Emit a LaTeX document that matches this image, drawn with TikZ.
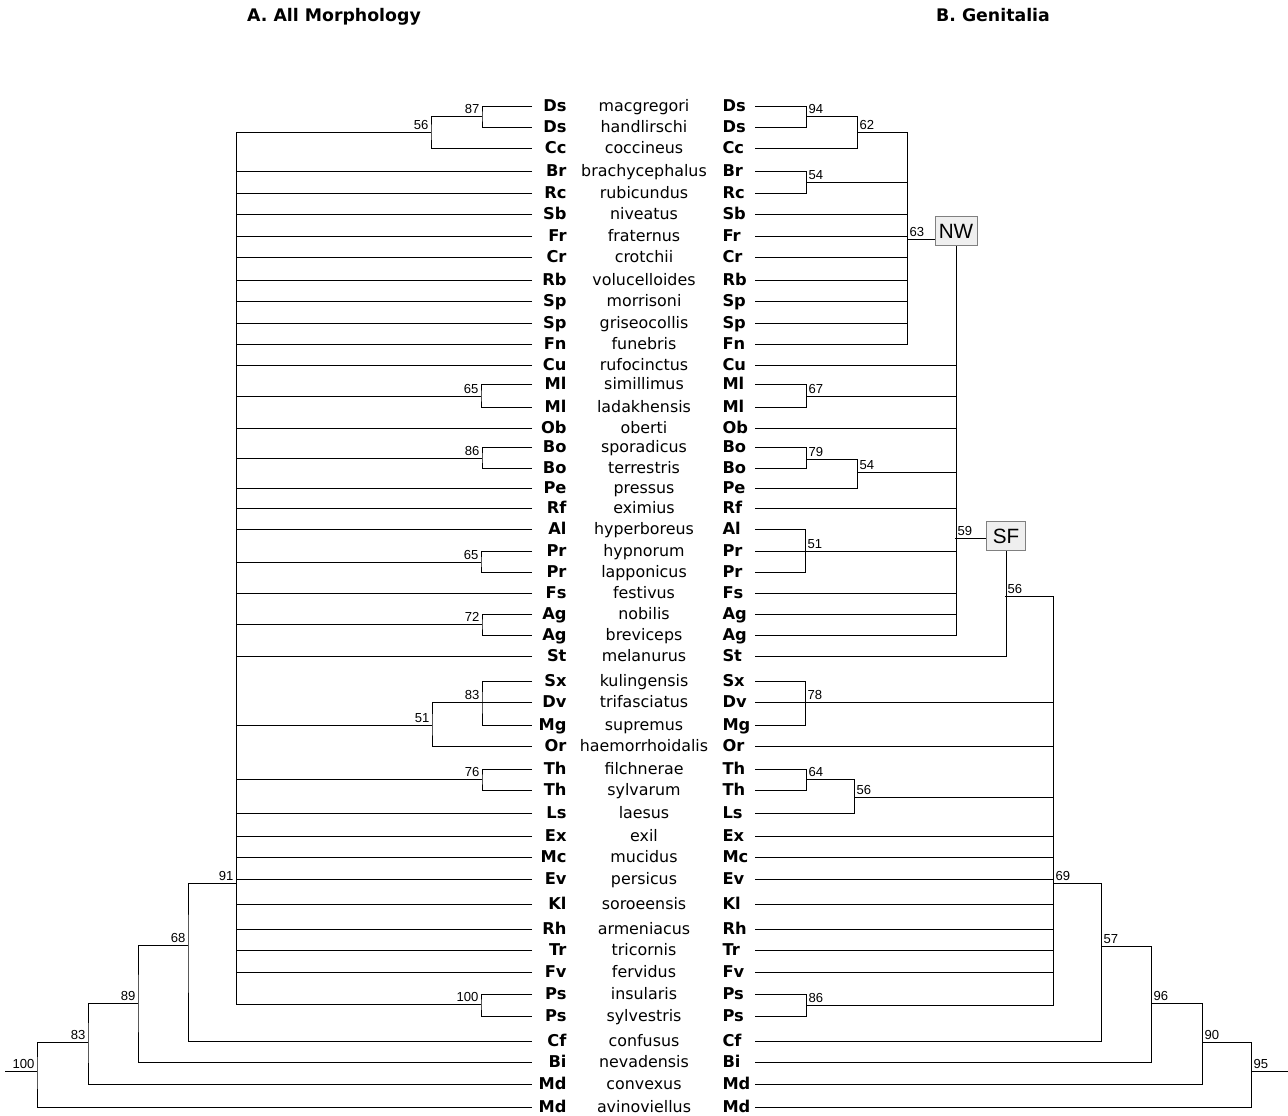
\documentclass[tikz,border=0pt]{standalone}
\usepackage{fontspec}
\setmainfont{DejaVu Sans}
\newfontfamily\numfont{Liberation Sans}
\definecolor{boxgray}{HTML}{EFEFEF}
\definecolor{edgegray}{HTML}{808080}
\tikzset{
  abbr/.style={font=\fontsize{12.2}{14}\selectfont\bfseries, inner sep=0pt, text height=8.9pt, text depth=0pt},
  taxon/.style={font=\fontsize{11.9}{14}\selectfont, inner sep=0pt, text height=8.7pt, text depth=0pt},
  bsl/.style={above left, font=\numfont\fontsize{9.8}{11}\selectfont, inner sep=1.6pt},
  bsr/.style={above right, font=\numfont\fontsize{9.8}{11}\selectfont, inner sep=1.6pt},
  grpbox/.style={draw=edgegray, fill=boxgray, font=\numfont\fontsize{15.5}{17}\selectfont, minimum height=22pt, inner sep=1pt},
  heading/.style={font=\fontsize{13}{15}\selectfont\bfseries}
}

\begin{document}
\begin{tikzpicture}[x=0.75pt, y=-0.75pt, line width=0.75pt]
\useasboundingbox (0,0) rectangle (1288,1115);
\node[heading] (titleA) at (334,17) {A. All Morphology};
\node[heading] (titleB) at (993,15) {B. Genitalia};

\foreach \y/\ab/\sp [count=\i] in {106/Ds/macgregori, 127/Ds/handlirschi, 148/Cc/coccineus,
  171/Br/brachycephalus, 193/Rc/rubicundus, 214/Sb/niveatus, 236/Fr/fraternus, 257/Cr/crotchii,
  280/Rb/volucelloides, 301/Sp/morrisoni, 323/Sp/griseocollis, 344/Fn/funebris, 365/Cu/rufocinctus,
  384/Ml/simillimus, 407/Ml/ladakhensis, 428/Ob/oberti, 447/Bo/sporadicus, 468/Bo/terrestris,
  488/Pe/pressus, 508/Rf/eximius, 529/Al/hyperboreus, 551/Pr/hypnorum, 572/Pr/lapponicus,
  593/Fs/festivus, 614/Ag/nobilis, 635/Ag/breviceps, 656/St/melanurus, 681/Sx/kulingensis,
  702/Dv/trifasciatus, 725/Mg/supremus, 746/Or/haemorrhoidalis, 769/Th/filchnerae, 790/Th/sylvarum,
  813/Ls/laesus, 836/Ex/exil, 857/Mc/mucidus, 879/Ev/persicus, 904/Kl/soroeensis, 929/Rh/armeniacus,
  950/Tr/tricornis, 972/Fv/fervidus, 994/Ps/insularis, 1016/Ps/sylvestris, 1041/Cf/confusus,
  1062/Bi/nevadensis, 1084/Md/convexus, 1107/Md/avinoviellus}
{
  \coordinate (a\i) at (532,\y);
  \coordinate (b\i) at (755,\y);
  \node[abbr, anchor=east] (la\i) at (567,\y) {\ab};
  \node[taxon] (sp\i) at (644,\y) {\sp};
  \node[abbr, anchor=west] (ra\i) at (722,\y) {\ab};
}

\foreach \n/\x/\y in {lDs/482/116, lDsCc/431/132, lMl/481/396, lBo/482/458, lPr/481/562,
  lAg/482/624, lSxMg/482/702, lOr/432/725, lTh/482/779, lPs/481/1004, lMain/236/883,
  lCf/188/945, lBi/138/1003, lMd/88/1042, lRoot/37/1071, lEnd/5/1071}
  \coordinate (\n) at (\x,\y);
\foreach \n/\x/\y in {rDs/806/116, rDsCc/857/132, rBrRc/806/182, rNW/907/239, rMl/806/396,
  rBo/806/459, rBoPe/857/472, rPr/805/551, rNWSF/955/538, rSF/1005/596, rSxMg/805/702,
  rTh/806/779, rThLs/854/797, rPs/806/1005, rMain/1053/883, rCf/1101/946, rBi/1151/1003,
  rMd/1202/1042, rRoot/1251/1071, rEnd/1288/1071}
  \coordinate (\n) at (\x,\y);

\node[grpbox, minimum width=31.5pt] (nw) at (956,231) {NW};
\node[grpbox, minimum width=29pt] (sf) at (1006,536) {SF};

\draw (a1) -| (lDs) |- (a2);
\draw (lDs) -| (lDsCc) |- (a3);
\draw (a14) -| (lMl) |- (a15);
\draw (a17) -| (lBo) |- (a18);
\draw (a22) -| (lPr) |- (a23);
\draw (a25) -| (lAg) |- (a26);
\draw (a28) -| (lSxMg) |- (a30);
\draw (a29) -- (lSxMg) -| (lOr) |- (a31);
\draw (a32) -| (lTh) |- (a33);
\draw (a42) -| (lPs) |- (a43);
\foreach \c in {lDsCc,a4,a5,a6,a7,a8,a9,a10,a11,a12,a13,lMl,a16,lBo,a19,a20,a21,lPr,a24,lAg,a27,
  lOr,lTh,a34,a35,a36,a37,a38,a39,a40,a41,lPs}
  \draw (\c) -| (lMain);
\draw (lMain) -| (lCf) |- (a44);
\draw (lCf) -| (lBi) |- (a45);
\draw (lBi) -| (lMd) |- (a46);
\draw (lMd) -| (lRoot) |- (a47);
\draw (lRoot) -- (lEnd);

\draw (b1) -| (rDs) |- (b2);
\draw (rDs) -| (rDsCc) |- (b3);
\draw (b4) -| (rBrRc) |- (b5);
\foreach \c in {rDsCc,rBrRc,b6,b7,b8,b9,b10,b11,b12}
  \draw (\c) -| (rNW);
\draw (rNW) -- (rNW -| nw.west);
\draw (b14) -| (rMl) |- (b15);
\draw (b17) -| (rBo) |- (b18);
\draw (rBo) -| (rBoPe) |- (b19);
\draw (b21) -| (rPr) |- (b23);
\draw (b22) -- (rPr);
\foreach \c in {b13,rMl,b16,rBoPe,b20,rPr,b24,b25,b26}
  \draw (\c) -| (nw.south);
\draw (rNWSF) -- (rNWSF -| sf.west);
\draw (b27) -| (sf.south);
\draw (b28) -| (rSxMg) |- (b30);
\draw (b29) -- (rSxMg);
\draw (b32) -| (rTh) |- (b33);
\draw (rTh) -| (rThLs) |- (b34);
\draw (b42) -| (rPs) |- (b43);
\foreach \c in {rSF,rSxMg,b31,rThLs,b35,b36,b37,b38,b39,b40,b41,rPs}
  \draw (\c) -| (rMain);
\draw (rMain) -| (rCf) |- (b44);
\draw (rCf) -| (rBi) |- (b45);
\draw (rBi) -| (rMd) |- (b46);
\draw (rMd) -| (rRoot) |- (b47);
\draw (rRoot) -- (rEnd);

\foreach \c/\v in {lDs/87, lDsCc/56, lMl/65, lBo/86, lPr/65, lAg/72, lSxMg/83, lOr/51, lTh/76,
  lPs/100, lMain/91, lCf/68, lBi/89, lMd/83, lRoot/100}
  \node[bsl] (v\c) at (\c) {\v};
\foreach \c/\v in {rDs/94, rDsCc/62, rBrRc/54, rNW/63, rMl/67, rBo/79, rBoPe/54, rPr/51,
  rNWSF/59, rSF/56, rSxMg/78, rTh/64, rThLs/56, rPs/86, rMain/69, rCf/57, rBi/96, rMd/90, rRoot/95}
  \node[bsr] (v\c) at (\c) {\v};
\end{tikzpicture}
\end{document}
